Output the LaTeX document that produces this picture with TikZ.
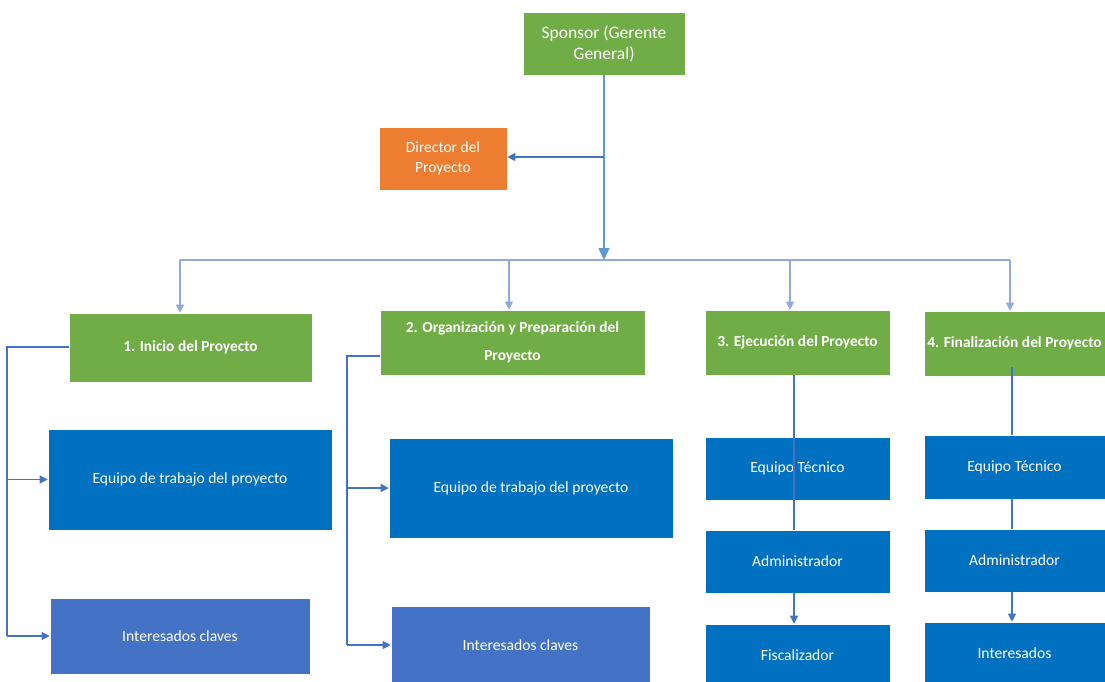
\documentclass[tikz,border=0pt]{standalone}
\usepackage{fontspec}
\setmainfont{Carlito}
\usetikzlibrary{arrows.meta}
\definecolor{cgreen}{HTML}{70AD47}
\definecolor{corange}{HTML}{ED7D31}
\definecolor{cblue}{HTML}{0070C0}
\definecolor{cmid}{HTML}{4472C4}
\definecolor{cline}{HTML}{4472C4}
\definecolor{clight}{HTML}{5B9BD5}
\definecolor{cbus}{HTML}{8FAADC}
\tikzset{
  box/.style={rectangle, draw=white, line width=0.6pt, text=white, align=center,
    inner sep=2pt, font=\fontsize{15.6}{20}\selectfont},
  phase/.style={box, fill=cgreen, font=\bfseries\fontsize{15.4}{28}\selectfont},
  team/.style={box, fill=cblue},
  stake/.style={box, fill=cmid},
  link/.style={draw=cline, line width=1.1pt},
  arr/.style={link, -{Triangle[length=8pt,width=8pt]}},
}
\begin{document}
\begin{tikzpicture}[x=1pt,y=-1pt]
\useasboundingbox (0,0) rectangle (1105,681);
\fill[white] (0,0) rectangle (1105,681);

% top level
\node[box, fill=cgreen, minimum width=162pt, minimum height=63pt, font=\fontsize{17.5}{21}\selectfont] (sponsor) at (604,43.5) {Sponsor (Gerente\\General)};
\node[box, fill=corange, minimum width=128pt, minimum height=63pt, font=\fontsize{15.5}{20}\selectfont] (director) at (443,158.5) {Director del\\Proyecto};

% phases
\node[phase, minimum width=243pt, minimum height=69pt] (p1) at (190.5,347.5) {1. Inicio del Proyecto};
\node[phase, minimum width=265pt, minimum height=65pt] (p2) at (512.5,342.5) {2. Organización y Preparación del\\Proyecto};
\node[phase, minimum width=185pt, minimum height=65pt] (p3) at (797.5,342.5) {3. Ejecución del Proyecto};
\node[phase, minimum width=181pt, minimum height=65pt, inner sep=0pt] (p4) at (1014.5,343.5) {4. Finalización del Proyecto};

% phase 1
\node[team, minimum width=284pt, minimum height=101pt] (e1) at (190,479.5) {Equipo de trabajo del proyecto};
\node[stake, minimum width=260pt, minimum height=76pt] (i1) at (180,636) {Interesados claves};

% phase 2
\node[team, minimum width=284pt, minimum height=100pt] (e2) at (531,488) {Equipo de trabajo del proyecto};
\node[stake, minimum width=259pt, minimum height=78pt] (i2) at (520.5,645) {Interesados claves};

% phase 3
\node[team, minimum width=185pt, minimum height=63pt] (t3) at (797.5,468.5) {Equipo Técnico};
\node[team, minimum width=185pt, minimum height=63pt] (a3) at (797.5,561.5) {Administrador};
\node[team, minimum width=185pt, minimum height=62pt] (f3) at (797.5,655) {Fiscalizador};

% phase 4
\node[team, minimum width=181pt, minimum height=64pt] (t4) at (1014.5,467) {Equipo Técnico};
\node[team, minimum width=181pt, minimum height=63pt] (a4) at (1014.5,560.5) {Administrador};
\node[team, minimum width=181pt, minimum height=62pt] (n4) at (1014.5,653) {Interesados};

% sponsor trunk and distribution bus
\coordinate (hub) at (604,260);
\coordinate (dsplit) at (604,157);
\coordinate (b1) at (180,260);
\coordinate (b2) at (509,260);
\coordinate (b3) at (790,260);
\coordinate (b4) at (1010,260);
\draw[arr, draw=clight, line width=1.6pt, -{Triangle[length=12pt,width=11pt]}] (sponsor.south) -- (hub);
\draw[arr] (dsplit) -- (dsplit -| director.east);
\draw[draw=cbus, line width=1.1pt] (b1) -- (b4);
\draw[arr, draw=cbus] (b1) -- (b1 |- p1.north);
\draw[arr, draw=cbus] (b2) -- (b2 |- p2.north);
\draw[arr, draw=cbus] (b3) -- (b3 |- p3.north);
\draw[arr, draw=cbus] (b4) -- (b4 |- p4.north);

% phase 1 branches
\coordinate (k1) at (7,347);
\draw[link] (p1.west |- k1) -- (k1) -- (k1 |- i1.west);
\draw[arr] (k1 |- e1.west) -- (e1.west);
\draw[arr] (k1 |- i1.west) -- (i1.west);

% phase 2 branches
\coordinate (k2) at (347,356);
\draw[link] (p2.west |- k2) -- (k2) -- (k2 |- i2.west);
\draw[arr] (k2 |- e2.west) -- (e2.west);
\draw[arr] (k2 |- i2.west) -- (i2.west);

% phase 3 chain
\coordinate (k3) at (794,375);
\draw[link] (k3) -- (k3 |- a3.north);
\draw[arr] (k3 |- a3.south) -- (k3 |- f3.north);

% phase 4 chain
\coordinate (k4) at (1012,367);
\draw[link] (k4) -- (k4 |- t4.north);
\draw[link] (k4 |- t4.south) -- (k4 |- a4.north);
\draw[arr] (k4 |- a4.south) -- (k4 |- n4.north);
\end{tikzpicture}
\end{document}
